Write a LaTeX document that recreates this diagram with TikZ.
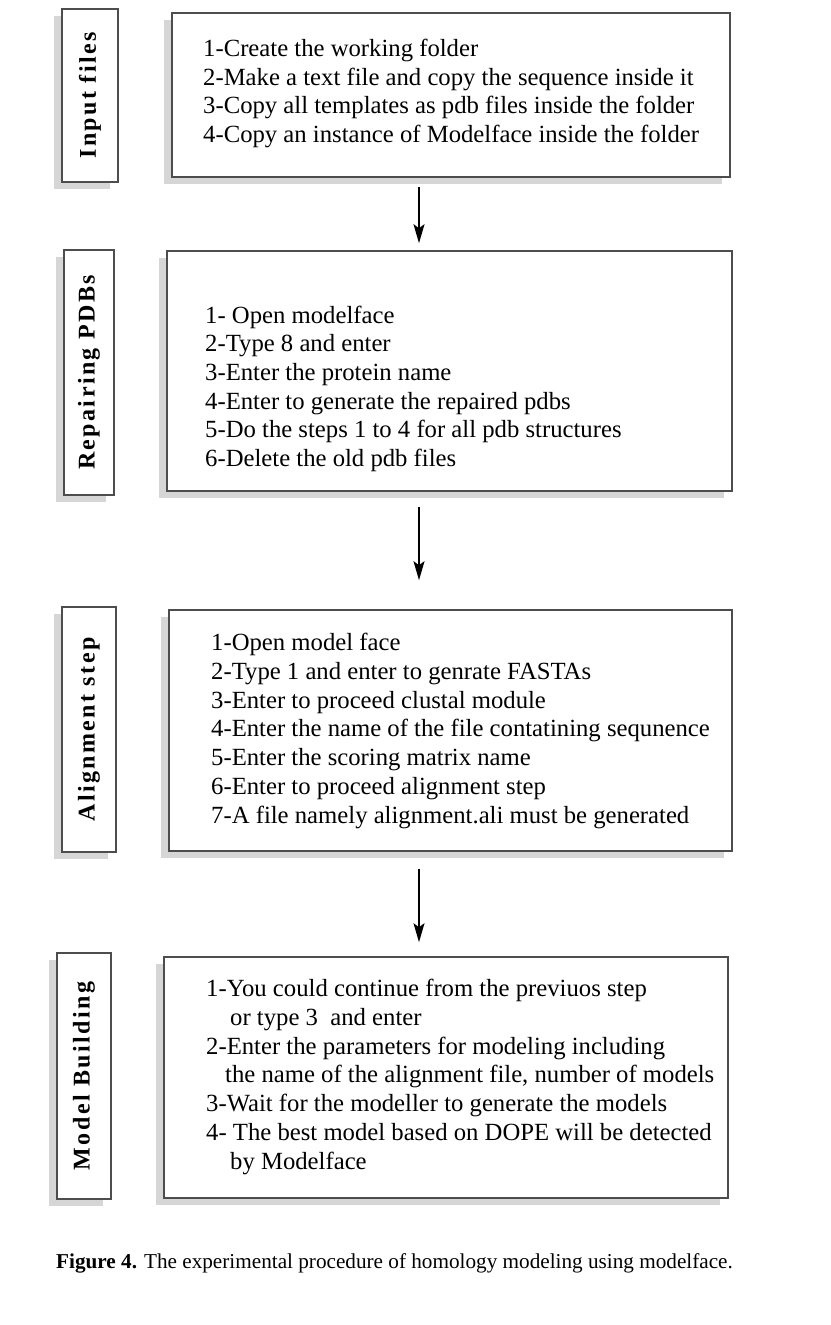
\documentclass[tikz,border=0pt]{standalone}
\usepackage{fontspec}
\setmainfont{Liberation Serif}
\newfontfamily\labelfont[LetterSpace=10]{Liberation Serif}
\usetikzlibrary{arrows.meta,shadows}
\definecolor{edgegray}{HTML}{4D4D4D}
\definecolor{shadegray}{HTML}{D6D6D6}

\begin{document}
\begin{tikzpicture}[x=1pt,y=-1pt,
  stepbox/.style={draw=edgegray, line width=1.6pt, fill=white, inner sep=0pt,
    drop shadow={shadow xshift=-8pt, shadow yshift=-7pt, fill=shadegray, opacity=1}},
  steptext/.style={anchor=base west, align=left, inner sep=0pt,
    font=\fontsize{24.7}{28.7}\selectfont},
  labeltext/.style={rotate=90, inner sep=0pt,
    font=\labelfont\bfseries\fontsize{24}{28}\selectfont},
  flowarrow/.style={line width=1.6pt, -{Stealth[length=19pt,width=11pt,inset=4pt]}}]
        \useasboundingbox (0,0) rectangle (830,1325);
        % Main boxes (pixel coordinates, y downwards)
        \node[stepbox, minimum width=558, minimum height=164] (box1) at (451,95) {};
        \node[stepbox, minimum width=565, minimum height=240] (box2) at (449.5,371) {};
        \node[stepbox, minimum width=563, minimum height=241] (box3) at (450.5,730.5) {};
        \node[stepbox, minimum width=564, minimum height=241] (box4) at (446,1077.5) {};
        % Side label boxes
        \node[stepbox, minimum width=56, minimum height=173] (lab1) at (90,95.5) {};
        \node[stepbox, minimum width=50, minimum height=245] (lab2) at (89,372.5) {};
        \node[stepbox, minimum width=54, minimum height=245] (lab3) at (89,729.5) {};
        \node[stepbox, minimum width=54, minimum height=246] (lab4) at (84,1076) {};
        \node[labeltext] (lab1text) at (lab1.center) {Input files};
        \node[labeltext] (lab2text) at (lab2.center) {Repairing PDBs};
        \node[labeltext] (lab3text) at (lab3.center) {Alignment step};
        \node[labeltext] (lab4text) at (lab4.center) {Model Building};
        % Step lists (anchored at the baseline of the last line)
        \node[steptext] (txt1) at (203,142.6) {1-Create the working folder\\
          2-Make a text file and copy the sequence inside it\\
          3-Copy all templates as pdb files inside the folder\\
          4-Copy an instance of Modelface inside the folder};
        \node[steptext] (txt2) at (205,466.5) {1- Open modelface\\
          2-Type 8 and enter\\
          3-Enter the protein name\\
          4-Enter to generate the repaired pdbs\\
          5-Do the steps 1 to 4 for all pdb structures\\
          6-Delete the old pdb files};
        \node[steptext] (txt3) at (211,823) {1-Open model face\\
          2-Type 1 and enter to genrate FASTAs\\
          3-Enter to proceed clustal module\\
          4-Enter the name of the file contatining sequnence\\
          5-Enter the scoring matrix name\\
          6-Enter to proceed alignment step\\
          7-A file namely alignment.ali must be generated};
        \node[steptext] (txt4) at (206,1169) {1-You could continue from the previuos step\\
          \hspace*{24pt}or type 3\ \ and enter\\
          2-Enter the parameters for modeling including\\
          \hspace*{19pt}the name of the alignment file, number of models\\
          3-Wait for the modeller to generate the models\\
          4- The best model based on DOPE will be detected\\
          \hspace*{24pt}by Modelface};
        % Arrows between the steps
        \coordinate (arrx) at (419,0);
        \draw[flowarrow, shorten <=9pt, shorten >=7pt] (box1.south -| arrx) -- (box2.north -| arrx);
        \draw[flowarrow, shorten <=15pt, shorten >=29pt] (box2.south -| arrx) -- (box3.north -| arrx);
        \draw[flowarrow, shorten <=17pt, shorten >=14pt] (box3.south -| arrx) -- (box4.north -| arrx);
        % Caption
        \node[anchor=base west, inner sep=0pt, font=\fontsize{21.2}{25}\selectfont] (caption)
          at (56,1268) {\textbf{Figure 4.} The experimental procedure of homology modeling using modelface.};
      \end{tikzpicture}
\end{document}
